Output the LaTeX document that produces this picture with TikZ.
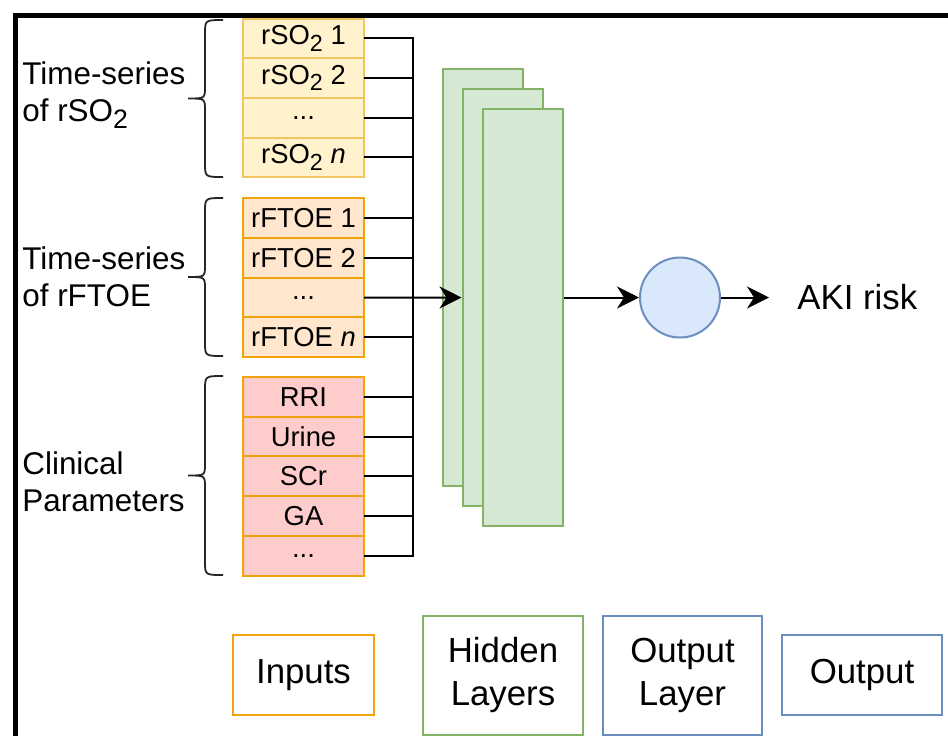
\documentclass[tikz,border=0pt]{standalone}
\usepackage{fontspec}
\setmainfont{Liberation Sans}
\usetikzlibrary{positioning,arrows.meta}
\definecolor{soframe}{HTML}{F2C462}
\definecolor{sofill}{HTML}{FFF2CC}
\definecolor{ftframe}{HTML}{F0A30A}
\definecolor{ftfill}{HTML}{FFE6CC}
\definecolor{clfill}{HTML}{FFCCCC}
\definecolor{hidframe}{HTML}{82B366}
\definecolor{hidfill}{HTML}{D5E8D4}
\definecolor{outframe}{HTML}{6C8EBF}
\definecolor{outfill}{HTML}{DAE8FC}

% lowered index digit, as the picture sets it
\newcommand{\lowidx}[1]{\raisebox{-0.45ex}{\scalebox{0.85}{#1}}}

% curly bracket in front of an input group: top y, bottom y
\newcommand{\groupbrace}[2]{%
  \draw[bracket] (223,#1) .. controls (205,#1) .. (205,{#1+14})
    -- (205,{(#1+#2)/2-12}) .. controls (205,{(#1+#2)/2}) .. (188,{(#1+#2)/2})
    .. controls (205,{(#1+#2)/2}) .. (205,{(#1+#2)/2+12})
    -- (205,{#2-14}) .. controls (205,#2) .. (223,#2);}

\begin{document}
\begin{tikzpicture}[
    x=0.5pt, y=-0.5pt,
    feature/.style={rectangle, draw, line width=1pt, minimum width=60.5pt,
                    minimum height=19.85pt, inner sep=0pt, outer sep=0pt,
                    font=\fontsize{13.7}{16}\selectfont},
    soin/.style={feature, draw=soframe, fill=sofill},
    ftin/.style={feature, draw=ftframe, fill=ftfill},
    clin/.style={feature, draw=ftframe, fill=clfill},
    grouplabel/.style={align=left, inner sep=0pt, font=\fontsize{15.7}{18.5}\selectfont},
    bracket/.style={line width=0.9pt, black!85},
    hidden/.style={rectangle, draw=hidframe, fill=hidfill, line width=1pt,
                   minimum width=40pt, minimum height=208.5pt, inner sep=0pt},
    outlayer/.style={circle, draw=outframe, fill=outfill, line width=1pt,
                     minimum size=40pt, inner sep=0pt},
    bigtext/.style={inner sep=0pt, font=\fontsize{17.4}{21.5}\selectfont},
    legend/.style={rectangle, line width=1pt, align=center, fill=white,
                   inner sep=0pt, outer sep=0pt, font=\fontsize{17.4}{21.5}\selectfont},
    wire/.style={line width=1pt},
    arrow/.style={wire, -{Stealth[length=11pt, width=11pt, inset=3.5pt]}},
    frame/.style={line width=2.5pt, line join=miter}
]
\useasboundingbox (0,0) rectangle (948,735);

% outer frame
\draw[frame] (15,745) -- (15,15) -- (960,15);

% rSO2 inputs
\node[soin, anchor=north west] (s1) at (243,18.5) {rSO\lowidx{2} 1};
\node[soin, below=0pt of s1] (s2) {rSO\lowidx{2} 2};
\node[soin, below=0pt of s2] (s3) {...};
\node[soin, below=0pt of s3] (s4) {rSO\lowidx{2} \textit{n}};

% rFTOE inputs
\node[ftin, anchor=north west] (f1) at (243,198.3) {rFTOE 1};
\node[ftin, below=0pt of f1] (f2) {rFTOE 2};
\node[ftin, below=0pt of f2] (f3) {...};
\node[ftin, below=0pt of f3] (f4) {rFTOE \textit{n}};

% clinical inputs
\node[clin, anchor=north west] (c1) at (243,377) {RRI};
\node[clin, below=0pt of c1] (c2) {Urine};
\node[clin, below=0pt of c2] (c3) {SCr};
\node[clin, below=0pt of c3] (c4) {GA};
\node[clin, below=0pt of c4] (c5) {...};

% group labels
\groupbrace{20}{177}
\groupbrace{198}{356}
\groupbrace{376}{575}
\node[grouplabel, anchor=west] (lso) at (22,95) {Time-series\\of rSO\lowidx{2}};
\node[grouplabel, anchor=west] (lft) at (22,277) {Time-series\\of rFTOE};
\node[grouplabel, anchor=west] (lcl) at (22,482) {Clinical\\Parameters};

% hidden layers
\node[hidden] (h1) at (482.5,277.5) {};
\node[hidden] (h2) at (502.5,297.5) {};
\node[hidden] (h3) at (522.5,317.5) {};

% output
\node[outlayer] (outc) at (680,297.5) {};
\node[bigtext, anchor=west, inner xsep=14pt] (aki) at (769,297.5) {AKI risk};

% connections
\coordinate (bus) at (413,0);
\draw[wire] (s1.east) -| (bus |- c5.east) -- (c5.east);
\foreach \n in {s2,s3,s4,f1,f2,f4,c1,c2,c3,c4}
  \draw[wire] (\n.east) -- (\n.east -| bus);
\draw[arrow] (f3.east) -- (h2.west);
\draw[arrow] (h3.east |- outc.west) -- (outc.west);
\draw[arrow] (outc.east) -- (aki.west);

% legend
\node[legend, draw=ftframe, minimum width=70.5pt, minimum height=40pt] (kin) at (303.5,675) {Inputs};
\node[legend, draw=hidframe, minimum width=80pt, minimum height=59.5pt, right=24.5pt of kin] (khid) {Hidden\\Layers};
\node[legend, draw=outframe, minimum width=79.5pt, minimum height=59.5pt, right=10pt of khid] (kout) {Output\\Layer};
\node[legend, draw=outframe, minimum width=80pt, minimum height=40pt, right=10pt of kout] (kres) {Output};

\end{tikzpicture}
\end{document}
